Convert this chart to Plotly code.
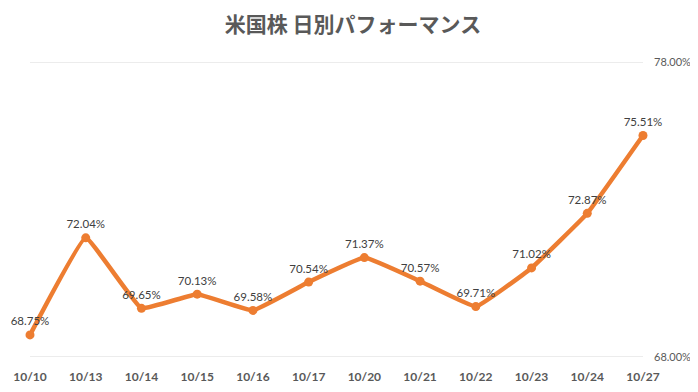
import plotly.graph_objects as go

dates = ["10/10", "10/13", "10/14", "10/15", "10/16", "10/17", "10/20", "10/21", "10/22", "10/23", "10/24", "10/27"]
values = [68.75, 72.04, 69.65, 70.13, 69.58, 70.54, 71.37, 70.57, 69.71, 71.02, 72.87, 75.51]
y_ticks = [68, 78]
y_tick_labels = ["68.00%", "78.00%"]
title = "米国株 日別パフォーマンス"

fig = go.Figure()
fig.add_trace(go.Scatter(
    x=list(range(len(dates))), y=values,
    mode="lines+markers+text",
    line=dict(color="#ED7D31", width=4.5, shape="spline", smoothing=0.25),
    marker=dict(color="#ED7D31", size=9),
    text=[f"{v:.2f}%" for v in values],
    textposition="top center",
    textfont=dict(family="Lato, Open Sans, sans-serif", size=11.5, color="#404040"),
    cliponaxis=False,
    hoverinfo="skip",
))

for yv in y_ticks:
    fig.add_shape(type="line", xref="paper", yref="y", x0=0, x1=1, y0=yv, y1=yv,
                  line=dict(color="#D9D9D9", width=1), layer="below")

# page body has an 8px margin, so the figure is slightly smaller than the window
fig.update_layout(
    width=690, height=384,
    margin=dict(l=22, r=55, t=54, b=35),
    paper_bgcolor="white", plot_bgcolor="white",
    showlegend=False,
    title=dict(text=title, x=0.5, xanchor="center", y=0.956, yanchor="middle",
               font=dict(family="Noto Sans CJK JP", size=21, color="#595959", weight="bold")),
    xaxis=dict(
        range=[0, len(dates) - 1], automargin=False,
        tickmode="array", tickvals=list(range(len(dates))), ticktext=dates,
        showgrid=False, zeroline=False, showline=False,
        tickfont=dict(family="Lato, Open Sans, sans-serif", size=12, color="#595959", weight="bold"),
        ticks="", ticklabelstandoff=11,
    ),
    yaxis=dict(
        range=[68, 78], side="right", automargin=False,
        tickmode="array", tickvals=y_ticks, ticktext=y_tick_labels,
        showgrid=False, zeroline=False, showline=False,
        tickfont=dict(family="Lato, Open Sans, sans-serif", size=11, color="#595959"),
        ticks="", ticklabelstandoff=10,
    ),
)

fig.write_html("out.html")
